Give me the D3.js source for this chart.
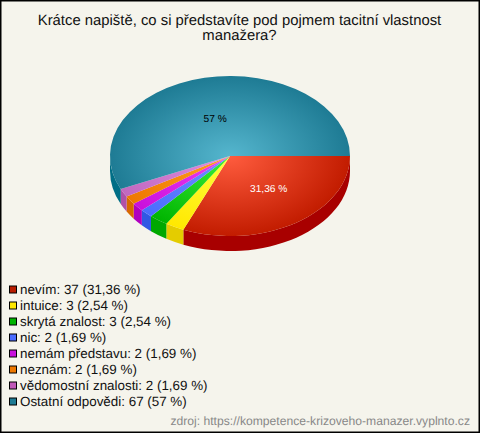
<!DOCTYPE html>
<html><head><meta charset="utf-8">
<script src="https://cdn.jsdelivr.net/npm/d3@7/dist/d3.min.js"></script>
<style>html,body{margin:0;padding:0;background:#f5f4ec}svg{display:block}text{font-family:"Liberation Sans",Arial,sans-serif;text-rendering:geometricPrecision}</style>
</head><body><svg id="c" width="480" height="433"></svg>
<script>
const titleLines = ["Krátce napiště, co si představíte pod pojmem tacitní vlastnost", "manažera?"];
const categories = ["nevím","intuice","skrytá znalost","nic","nemám představu","neznám","vědomostní znalosti","Ostatní odpovědi"];
const values = [37,3,3,2,2,2,2,67];
const percents = ["31,36","2,54","2,54","1,69","1,69","1,69","1,69","57"];
const topInner = ["#ff5c3e","#ffff40","#3cf03c","#7090ff","#f040f0","#ffa020","#e090e0","#55b6ce"];
const topOuter = ["#c21c00","#ffe800","#00b400","#4a6cff","#c810dc","#ee7800","#c068c0","#1e7b94"];
const wallCol = ["#a80000","#e4cc00","#00a800","#3058e4","#b000c0","#d86800","#b050a8","#006e86"];
const legendCol = ["#b81c00","#ffe800","#00b400","#4a6cff","#c810dc","#ee7800","#c058b8","#1e7b94"];
const shownLabels = [0,7];
const labelCol = {0:"#ffffff",7:"#000000"};
const sourceText = "zdroj: https://kompetence-krizoveho-manazer.vyplnto.cz";

const W=480,H=433,cx=230,cy=156,R=120,squash=2/3,depth=15;
const svg=d3.select("#c");
svg.append("rect").attr("x",.75).attr("y",.75).attr("width",W-1.5).attr("height",H-1.5).attr("fill","#f5f4ec").attr("stroke","#000").attr("stroke-width",1.5);
svg.selectAll("text.t").data(titleLines).join("text").attr("class","t").attr("x",W/2-0.5).attr("y",(d,i)=>25+i*15).attr("text-anchor","middle").attr("font-size",14.85).attr("fill","#111").text(d=>d);

const defs=svg.append("defs");
topInner.forEach((c,i)=>{
  const g=defs.append("radialGradient").attr("id","g"+i).attr("gradientUnits","userSpaceOnUse").attr("cx",0).attr("cy",0).attr("r",R);
  g.append("stop").attr("offset",0).attr("stop-color",c);
  g.append("stop").attr("offset",1).attr("stop-color",topOuter[i]);
});
// d3 angle 0 is north; the first slice starts at east and runs clockwise
const pie=d3.pie().sort(null).startAngle(Math.PI/2).endAngle(Math.PI/2+2*Math.PI);
const arcs=pie(values);
const arc=d3.arc().innerRadius(0).outerRadius(R);
const root=svg.append("g").attr("transform",`translate(${cx},${cy}) scale(1,${squash})`);
const dd=depth/squash;
function wall(a){
  const a0=Math.max(a.startAngle-Math.PI/2,0),a1=Math.min(a.endAngle-Math.PI/2,Math.PI);
  if(a1<=a0) return null;
  const p=d3.path();
  p.arc(0,0,R,a0,a1,false);
  p.lineTo(R*Math.cos(a1),R*Math.sin(a1)+dd);
  p.arc(0,dd,R,a1,a0,true);
  p.closePath();
  return p.toString();
}
root.selectAll("path.w").data(arcs).join("path").attr("class","w").attr("d",wall).attr("fill",(d,i)=>wallCol[i]);
root.selectAll("path.s").data(arcs).join("path").attr("class","s").attr("d",arc).attr("fill",(d,i)=>`url(#g${i})`);

shownLabels.forEach(i=>{
  const a=arcs[i],m=(a.startAngle+a.endAngle)/2-Math.PI/2;
  svg.append("text").attr("x",cx+70*Math.cos(m)).attr("y",cy+39*Math.sin(m)+4).attr("text-anchor","middle").attr("font-size",10.2).attr("fill",labelCol[i]).text(percents[i]+" %");
});

const ly=d3.scalePoint().domain(categories).range([289.5,401.5]);
const leg=svg.selectAll("g.l").data(categories).join("g").attr("class","l").attr("transform",d=>`translate(0,${ly(d)})`);
leg.append("rect").attr("x",9.5).attr("y",-3.5).attr("width",7).attr("height",7).attr("fill",(d,i)=>legendCol[i]).attr("stroke","#000").attr("stroke-width",1);
leg.append("text").attr("x",20).attr("y",4.5).attr("font-size",13.4).attr("fill","#111").text((d,i)=>`${d}: ${values[i]} (${percents[i]} %)`);
svg.append("text").attr("x",470).attr("y",425).attr("text-anchor","end").attr("font-size",12.15).attr("fill","#888").text(sourceText);
</script></body></html>
